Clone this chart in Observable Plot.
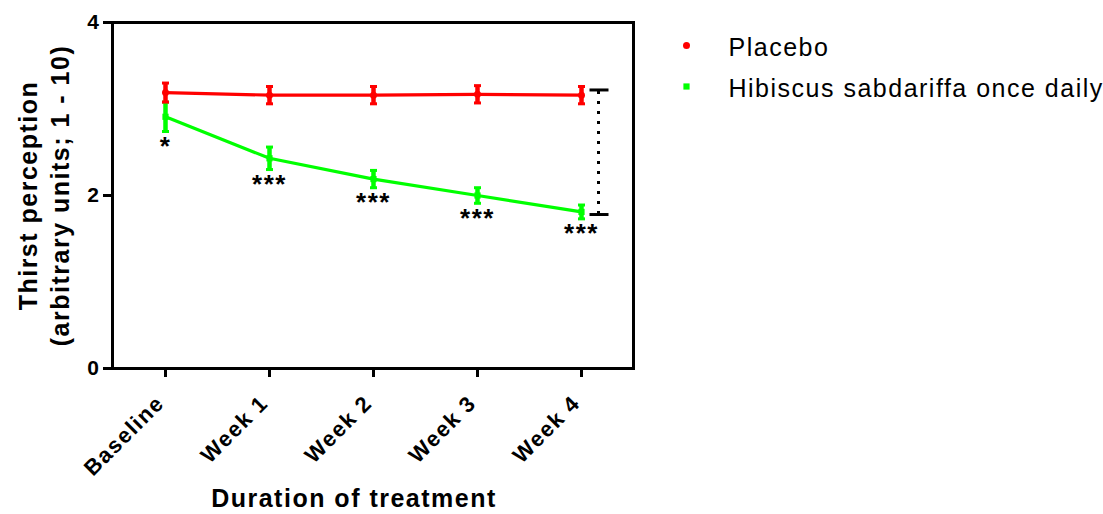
<!DOCTYPE html>
<html>
<head>
<meta charset="utf-8">
<script src="https://cdn.jsdelivr.net/npm/d3@7"></script>
<script src="https://cdn.jsdelivr.net/npm/@observablehq/plot@0.6"></script>
<style>
  html, body { margin: 0; padding: 0; background: #ffffff; }
  #chart { width: 1103px; height: 514px; }
</style>
</head>
<body>
<div id="chart"></div>
<script>
// ---- data ----
const categories = ["Baseline", "Week 1", "Week 2", "Week 3", "Week 4"];
const seriesNames = ["Placebo", "Hibiscus sabdariffa once daily"];
const seriesColors = ["#ff0000", "#00ff00"];
const placeboMean = [3.19, 3.16, 3.16, 3.17, 3.16];
const placeboErr = [0.11, 0.10, 0.10, 0.10, 0.10];
const hibiscusMean = [2.91, 2.43, 2.19, 2.00, 1.81];
const hibiscusErr = [0.17, 0.13, 0.10, 0.09, 0.08];
const significance = ["*", "***", "***", "***", "***"];
const bracketCategory = "Week 4";
const bracketValues = [3.22, 1.78];
const yTicks = [0, 2, 4];
const yTitleLines = ["Thirst perception", "(arbitrary units; 1 - 10)"];
const xTitle = "Duration of treatment";

// ---- tables built from the arrays ----
const makeRows = (means, errs) => categories.map((c, i) => ({
  cat: c, mean: means[i], lo: means[i] - errs[i], hi: means[i] + errs[i]
}));
const placebo = makeRows(placeboMean, placeboErr);
const hibiscus = makeRows(hibiscusMean, hibiscusErr);
const sigRows = hibiscus.map((d, i) => ({...d, label: significance[i]}));
const bracketRows = bracketValues.map(v => ({cat: bracketCategory, v}));
const bracketSpan = [{cat: bracketCategory, y1: d3.min(bracketValues), y2: d3.max(bracketValues)}];

// custom symbols: error-bar cap and bracket end
const capSymbol = {draw(ctx) { ctx.rect(-3.5, -1.5, 7, 3); }};
const bracketEnd = {draw(ctx) { ctx.rect(8, -1.5, 19, 3); }};

function seriesMarks(rows, color, symbol, r) {
  return [
    Plot.line(rows, {x: "cat", y: "mean", stroke: color, strokeWidth: 3.2}),
    Plot.ruleX(rows, {x: "cat", y1: "lo", y2: "hi", stroke: color, strokeWidth: 4.5}),
    Plot.dot(rows, {x: "cat", y: "lo", symbol: capSymbol, fill: color, stroke: "none"}),
    Plot.dot(rows, {x: "cat", y: "hi", symbol: capSymbol, fill: color, stroke: "none"}),
    Plot.dot(rows, {x: "cat", y: "mean", fill: color, stroke: "none", symbol, r})
  ];
}

const chart = Plot.plot({
  width: 1103,
  height: 514,
  marginLeft: 112,
  marginRight: 470,
  marginTop: 22,
  marginBottom: 146,
  style: {
    fontFamily: "'Liberation Sans', Arial, sans-serif",
    fontWeight: "bold",
    letterSpacing: "1.5px",
    color: "#000",
    background: "#fff",
    overflow: "visible"
  },
  x: {type: "point", domain: categories, padding: 0.5, axis: null},
  y: {domain: [0, 4], axis: null},
  marks: [
    Plot.axisY({ticks: yTicks, tickFormat: d => String(d), tickSize: 9, tickPadding: 3, strokeWidth: 3, fontSize: 21, label: null}),
    Plot.axisX({tickSize: 9, tickFormat: () => "", strokeWidth: 3, label: null}),
    Plot.text(categories, {x: d => d, text: d => d, frameAnchor: "bottom", rotate: -45, textAnchor: "end", lineAnchor: "middle", dy: 31, dx: -5, fontSize: 22}),
    Plot.frame({stroke: "#000", strokeWidth: 3}),
    ...seriesMarks(hibiscus, seriesColors[1], "square", 3.5),
    ...seriesMarks(placebo, seriesColors[0], "circle", 3.5),
    Plot.text(sigRows, {x: "cat", y: "lo", text: "label", fontSize: 26, lineAnchor: "top", dy: 5}),
    Plot.dot(bracketRows, {x: "cat", y: "v", symbol: bracketEnd, fill: "#000", stroke: "none"}),
    Plot.ruleX(bracketSpan, {x: "cat", y1: "y1", y2: "y2", dx: 17, stroke: "#000", strokeWidth: 3, strokeDasharray: "3,7"}),
    // axis titles
    Plot.text([yTitleLines[0]], {frameAnchor: "left", text: d => d, rotate: -90, dx: -84, textAnchor: "middle", lineAnchor: "middle", fontSize: 25}),
    Plot.text([yTitleLines[1]], {frameAnchor: "left", text: d => d, rotate: -90, dx: -52, textAnchor: "middle", lineAnchor: "middle", fontSize: 25}),
    Plot.text([xTitle], {frameAnchor: "bottom", text: d => d, dy: 130, dx: -19, lineAnchor: "middle", fontSize: 25}),
    // legend
    Plot.dot([seriesNames[0]], {frameAnchor: "top-right", dx: 53, dy: 23, symbol: "circle", r: 3.5, fill: seriesColors[0], stroke: "none"}),
    Plot.dot([seriesNames[1]], {frameAnchor: "top-right", dx: 53, dy: 64, symbol: "square", r: 3.5, fill: seriesColors[1], stroke: "none"}),
    Plot.text([seriesNames[0]], {frameAnchor: "top-right", text: d => d, dx: 95, dy: 25, textAnchor: "start", lineAnchor: "middle", fontSize: 25, fontWeight: "normal"}),
    Plot.text([seriesNames[1]], {frameAnchor: "top-right", text: d => d, dx: 95, dy: 66, textAnchor: "start", lineAnchor: "middle", fontSize: 25, fontWeight: "normal"})
  ]
});
document.getElementById("chart").appendChild(chart);
</script>
</body>
</html>
